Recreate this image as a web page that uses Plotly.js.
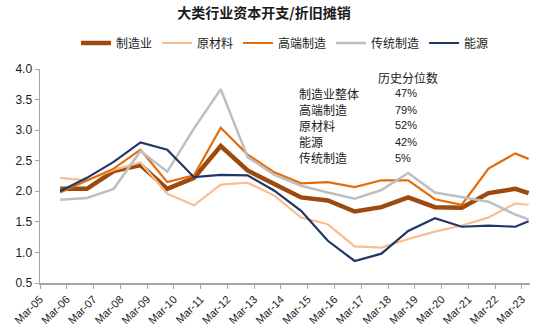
<!DOCTYPE html>
<html><head><meta charset="utf-8">
<script src="https://cdn.plot.ly/plotly-3.0.1.min.js"></script>
<style>html,body{margin:0;padding:0;background:#fff}#chart{width:550px;height:333px}</style>
</head><body><div id="chart"></div>
<script>
// Period ends (annual December readings, last one June 2023)
const periods = ['2005-12-01','2006-12-01','2007-12-01','2008-12-01','2009-12-01','2010-12-01','2011-12-01','2012-12-01','2013-12-01','2014-12-01','2015-12-01','2016-12-01','2017-12-01','2018-12-01','2019-12-01','2020-12-01','2021-12-01','2022-12-01','2023-06-01'];
const seriesNames = ['制造业','原材料','高端制造','传统制造','能源'];
const manufacturing = [2.04, 2.04, 2.33, 2.43, 2.04, 2.22, 2.74, 2.34, 2.12, 1.90, 1.85, 1.67, 1.74, 1.90, 1.74, 1.73, 1.97, 2.04, 1.97];
const materials     = [2.22, 2.18, 2.35, 2.47, 1.96, 1.77, 2.11, 2.14, 1.93, 1.57, 1.46, 1.10, 1.08, 1.22, 1.34, 1.44, 1.57, 1.80, 1.78];
const highEnd       = [1.98, 2.18, 2.37, 2.68, 2.15, 2.26, 3.04, 2.60, 2.31, 2.13, 2.15, 2.07, 2.18, 2.18, 1.87, 1.78, 2.37, 2.62, 2.53];
const traditional   = [1.86, 1.89, 2.04, 2.66, 2.32, 3.03, 3.67, 2.56, 2.27, 2.09, 1.98, 1.88, 2.02, 2.30, 1.98, 1.90, 1.83, 1.62, 1.54];
const energy        = [2.00, 2.22, 2.48, 2.80, 2.68, 2.23, 2.27, 2.26, 2.01, 1.68, 1.19, 0.86, 0.98, 1.35, 1.56, 1.42, 1.44, 1.42, 1.51];
// Historical percentile table
const tableHeader = '历史分位数';
const tableLabels = ['制造业整体','高端制造','原材料','能源','传统制造'];
const tableValues = ['47%','79%','52%','42%','5%'];

const values = [manufacturing, materials, highEnd, traditional, energy];
const colors = ['#9C4A0E','#F9BE8F','#E46C0A','#BFBFBF','#1F3864'];
const widths = [4.5, 2.2, 2.2, 2.5, 2.2];

const traces = seriesNames.map((n,i)=>({
  x: periods, y: values[i], name: n, type:'scatter', mode:'lines',
  line:{color:colors[i], width:widths[i]}
}));

// plot area in pixels
const L=40, R=530, T=69, B=283;
const px = x => (x-L)/(R-L);
const py = y => (B-y)/(B-T);
const cjk = '"Noto Sans CJK SC", sans-serif';

const annotations = [{
  text: tableHeader, xref:'paper', yref:'paper', x: px(376), y: py(77),
  xanchor:'left', yanchor:'middle', showarrow:false, font:{family:cjk, size:12, color:'#1a1a1a'}
}];
const rowY = [93, 109.5, 125.5, 141.5, 157.5];
tableLabels.forEach((t,i)=>{
  annotations.push({text:t, xref:'paper', yref:'paper', x:px(297), y:py(rowY[i]), xanchor:'left', yanchor:'middle', showarrow:false, font:{family:cjk, size:12, color:'#1a1a1a'}});
  annotations.push({text:tableValues[i], xref:'paper', yref:'paper', x:px(393), y:py(rowY[i]), xanchor:'left', yanchor:'middle', showarrow:false, font:{family:'"Liberation Sans", Arial, sans-serif', size:11, color:'#1a1a1a'}});
});

const layout = {
  width:550, height:333,
  margin:{l:L, r:550-R, t:T, b:333-B, pad:0},
  paper_bgcolor:'#fff', plot_bgcolor:'#fff',
  title:{text:'<b>大类行业资本开支/折旧摊销</b>', x:264/550, xanchor:'center', y:1-13/333, yanchor:'middle', yref:'container',
    font:{family:cjk, size:14, color:'#1a1a1a'}},
  showlegend:true,
  legend:{orientation:'h', x:px(76), xanchor:'left', y:py(43), yanchor:'middle',
    font:{family:cjk, size:12, color:'#1a1a1a'}, bgcolor:'rgba(0,0,0,0)', itemwidth:30, tracegroupgap:0},
  xaxis:{type:'date', range:['2005-03-01','2023-06-20'], tick0:'2005-03-01', dtick:'M12', tickformat:'%b-%y',
    tickangle:-45, showgrid:false, zeroline:false, showline:true, linecolor:'#A6A6A6', linewidth:1.5,
    ticks:'outside', ticklen:4, tickcolor:'#A6A6A6',
    tickfont:{family:'"Liberation Sans", Arial, sans-serif', size:11, color:'#1a1a1a'}},
  yaxis:{range:[0.5,4.0], dtick:0.5, tick0:0.5, tickformat:'.1f', showgrid:false, zeroline:false, showline:true,
    linecolor:'#A6A6A6', linewidth:1.5, ticks:'outside', ticklen:4, tickcolor:'#A6A6A6',
    tickfont:{family:'"Liberation Sans", Arial, sans-serif', size:12, color:'#1a1a1a'}},
  annotations: annotations
};
Plotly.newPlot('chart', traces, layout, {displayModeBar:false, staticPlot:true});
</script></body></html>
